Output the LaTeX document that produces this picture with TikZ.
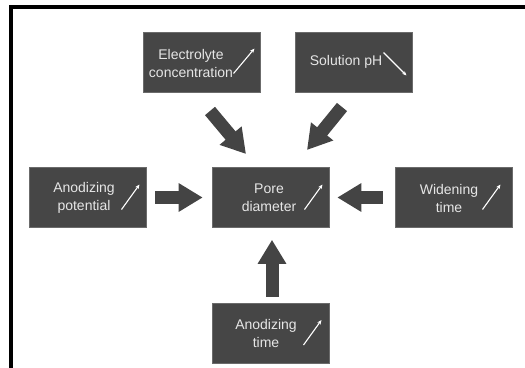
\documentclass[tikz,border=0pt]{standalone}
\usepackage{fontspec}
\setmainfont{Liberation Sans}
\usetikzlibrary{arrows.meta}
\definecolor{boxgray}{HTML}{464646}
\definecolor{arrgray}{HTML}{444444}
\definecolor{txtgray}{HTML}{E6E6E6}
\begin{document}
\begin{tikzpicture}[x=1pt,y=-1pt,
  box/.style={draw=boxgray!80!white,line width=0.6pt,fill=boxgray,minimum width=117pt,minimum height=60pt,inner sep=0pt},
  lbl/.style={text=txtgray,font=\fontsize{14}{18}\selectfont,align=center,inner sep=0pt},
  tiny/.style={draw=white,line width=1.1pt,-{Stealth[length=4.5pt,width=3.8pt]}},
  blk/.style={draw=arrgray,line width=13pt,-{Triangle[length=24pt,width=27pt]}}]
\useasboundingbox (0,0) rectangle (525,367);
\fill[white] (0,0) rectangle (525,367);
\draw[line width=3.6pt,line join=miter] (11,370) -- (11,7) -- (528,7);
% boxes
\node[box] (elec) at (201.5,62.5) {};
\node[box] (ph) at (353.5,62.5) {};
\node[box] (pot) at (87.5,197.5) {};
\node[box] (pore) at (270.5,197.5) {};
\node[box] (wid) at (453.5,197.5) {};
\node[box] (atime) at (270.5,333) {};
% labels
\node[lbl] (elect) at (191,63) {Electrolyte\\concentration};
\node[lbl] (pht) at (346,62) {Solution pH};
\node[lbl] (pott) at (84,198) {Anodizing\\potential};
\node[lbl] (poret) at (269,198) {Pore\\diameter};
\node[lbl] (widt) at (449,198) {Widening\\time};
\node[lbl] (atimet) at (266,333) {Anodizing\\time};
% small trend arrows
\draw[tiny] ([shift={(32,11)}]elec.center) -- ([shift={(53,-14)}]elec.center);
\draw[tiny] ([shift={(30,-10)}]ph.center) -- ([shift={(53,13)}]ph.center);
\draw[tiny] ([shift={(34,12)}]pot.center) -- ([shift={(52,-13)}]pot.center);
\draw[tiny] ([shift={(34,12)}]pore.center) -- ([shift={(52,-13)}]pore.center);
\draw[tiny] ([shift={(29,12)}]wid.center) -- ([shift={(47,-13)}]wid.center);
\draw[tiny] ([shift={(33,12)}]atime.center) -- ([shift={(51,-13)}]atime.center);
% block arrows
\coordinate (e1) at (210,111);
\coordinate (e2) at (246,154);
\coordinate (p1) at (342,107);
\coordinate (p2) at (307,150);
\draw[blk] (e1) -- (e2);
\draw[blk] (p1) -- (p2);
\draw[blk,shorten <=9pt,shorten >=9pt] (pot.east) -- (pore.west);
\draw[blk,shorten <=12pt,shorten >=8pt] (wid.west) -- (pore.east);
\draw[blk,shorten <=6pt,shorten >=12pt] ([xshift=1.5pt]atime.north) -- ([xshift=1.5pt]pore.south);
\end{tikzpicture}
\end{document}
